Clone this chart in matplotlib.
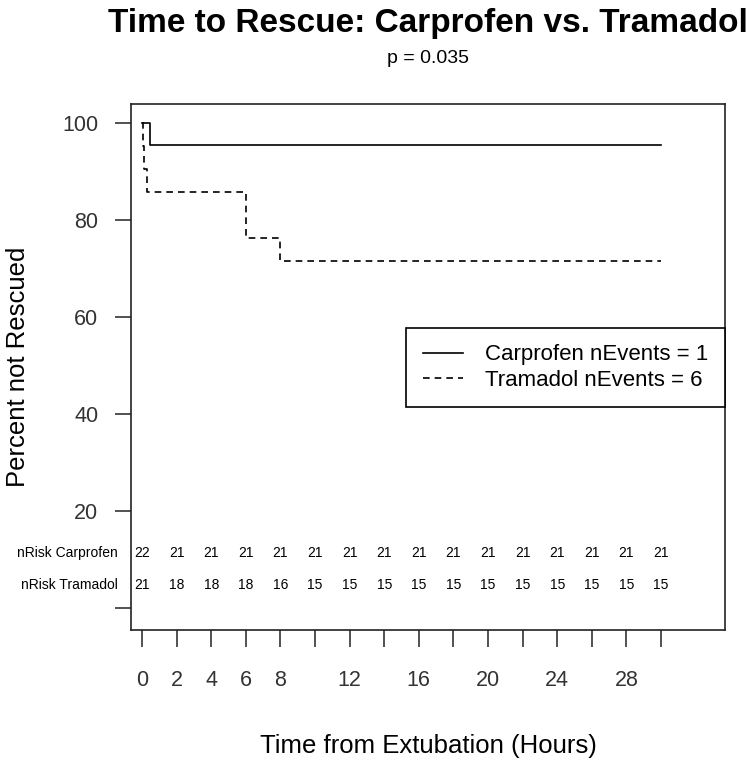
import matplotlib
matplotlib.use('Agg')
import matplotlib.pyplot as plt
import numpy as np

plt.rcParams['font.family'] = ['Liberation Sans', 'DejaVu Sans']

# Kaplan-Meier steps (hours, percent not rescued)
carp_t = [0, 0.45, 30]
carp_s = [100, 95.45, 95.45]
tram_t = [0, 0.05, 0.12, 0.3, 6, 8, 30]
tram_s = [100, 95.24, 90.48, 85.71, 76.19, 71.43, 71.43]

risk_times = [0, 2, 4, 6, 8, 10, 12, 14, 16, 18, 20, 22, 24, 26, 28, 30]
risk_carp = [22, 21, 21, 21, 21, 21, 21, 21, 21, 21, 21, 21, 21, 21, 21, 21]
risk_tram = [21, 18, 18, 18, 16, 15, 15, 15, 15, 15, 15, 15, 15, 15, 15, 15]

xticks = list(range(0, 31, 2))
xlabels = ['0', '2', '4', '6', '8', '', '12', '', '16', '', '20', '', '24', '', '28', '']
yticks = [0, 20, 40, 60, 80, 100]
ylabels = ['', '20', '40', '60', '80', '100']

W, H = 750, 767
fig = plt.figure(figsize=(W/100, H/100), dpi=100)
ax = fig.add_axes([131/W, 1-630/H, (725-131)/W, (630-104)/H])

ax.step(carp_t, carp_s, where='post', color='black', lw=1.2, label='Carprofen nEvents = 1')
ax.step(tram_t, tram_s, where='post', color='black', lw=1.2, dashes=(4, 3),
        label='Tramadol nEvents = 6')

ax.set_xlim(-0.636, 33.7)
ax.set_ylim(-4.54, 103.9)

ax.set_xticks(xticks)
ax.set_xticklabels(xlabels)
ax.set_yticks(yticks)
ax.set_yticklabels(ylabels)
ax.tick_params(axis='x', length=12, width=1.2, pad=17, labelsize=15.5, colors='#333333')
ax.tick_params(axis='y', length=11.5, width=1.2, pad=12, labelsize=15.5, colors='#333333')
for s in ax.spines.values():
    s.set_linewidth(1.2)
    s.set_color('#222222')

# number at risk table
for t, c, r in zip(risk_times, risk_carp, risk_tram):
    ax.text(t, 11.3, str(c), ha='center', va='center', fontsize=10)
    ax.text(t, 4.7, str(r), ha='center', va='center', fontsize=10)
ax.text(-1.4, 11.3, 'nRisk Carprofen', ha='right', va='center', fontsize=10, clip_on=False)
ax.text(-1.4, 4.7, 'nRisk Tramadol', ha='right', va='center', fontsize=10, clip_on=False)

leg = ax.legend(loc='center right', bbox_to_anchor=(1.0, 0.499), fontsize=16,
                frameon=True, fancybox=False, edgecolor='black', framealpha=1,
                handlelength=1.8, handletextpad=1.0, borderpad=0.75, labelspacing=0.2,
                borderaxespad=0)
leg.get_frame().set_linewidth(1.2)

fig.text(428/W, 1-32/H, 'Time to Rescue: Carprofen vs. Tramadol', ha='center', va='baseline',
         fontsize=24, fontweight='bold')
fig.text(428/W, 1-63/H, 'p = 0.035', ha='center', va='baseline', fontsize=14)
fig.text(428/W, 1-746/H, 'Time from Extubation (Hours)', ha='center', va='center', fontsize=18.5)
fig.text(18/W, 1-367/H, 'Percent not Rescued', ha='center', va='center', rotation=90, fontsize=18.5)

fig.savefig('out.png', dpi=100)
